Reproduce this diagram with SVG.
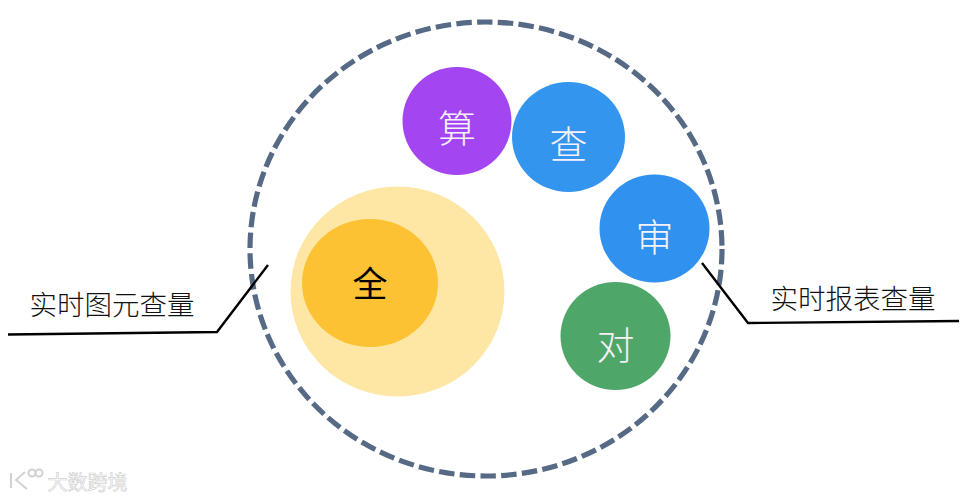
<svg xmlns="http://www.w3.org/2000/svg" width="970" height="499" viewBox="0 0 970 499">
<style>
text{font-family:"Noto Sans CJK SC","Noto Sans",sans-serif;text-anchor:middle}
.w{font-size:38px;fill:#f6f0fa;font-weight:300}
.l{font-size:27.500px;fill:#111;font-weight:300}
.c{fill:none;stroke:#000;stroke-width:2.400}
.m{fill:none;stroke:#d2d2d2;stroke-width:2}
</style>
<rect width="970" height="499" fill="#fff"/>
<g id="boundary"><ellipse cx="486" cy="249" rx="236" ry="227" fill="none" stroke="#566a85" stroke-width="5.200" stroke-dasharray="15.500 5.300"/></g>
<g id="node-suan"><ellipse cx="457" cy="121" rx="54.500" ry="54" fill="#a346f2"/><text class="w" x="457" y="142">算</text></g>
<g id="node-cha"><ellipse cx="568.500" cy="137" rx="56.500" ry="55" fill="#3395ee"/><text class="w" x="568.500" y="158">查</text></g>
<g id="node-shen"><ellipse cx="654.500" cy="228.500" rx="55" ry="54" fill="#3191ee"/><text class="w" x="654.500" y="251">审</text></g>
<g id="node-dui"><ellipse cx="615.500" cy="336" rx="55" ry="54" fill="#4ea769"/><text class="w" x="615.500" y="359">对</text></g>
<g id="node-quan"><ellipse cx="397.500" cy="291.500" rx="107" ry="105" fill="#fee6a4"/><ellipse cx="370" cy="283" rx="68" ry="64" fill="#fdc233"/><text x="370" y="297" font-size="35" fill="#000">全</text></g>
<g id="connectors">
<polyline class="c" points="8,334.500 217,332 268,265"/>
<polyline class="c" points="702,263 748,323 959,321"/>
</g>
<g id="label-left"><text class="l" x="112" y="315">实时图元查量</text></g>
<g id="label-right"><text class="l" x="853" y="309">实时报表查量</text></g>
<g id="watermark">
<path class="m" d="M11 473V488M25 472L16 480L27 489"/><circle class="m" cx="32" cy="473" r="3.500"/><circle class="m" cx="39" cy="473" r="3.500"/>
<text x="87.500" y="490" font-size="20" fill="#fff" stroke="#d2d2d2" stroke-width=".7">大数跨境</text></g>
</svg>
